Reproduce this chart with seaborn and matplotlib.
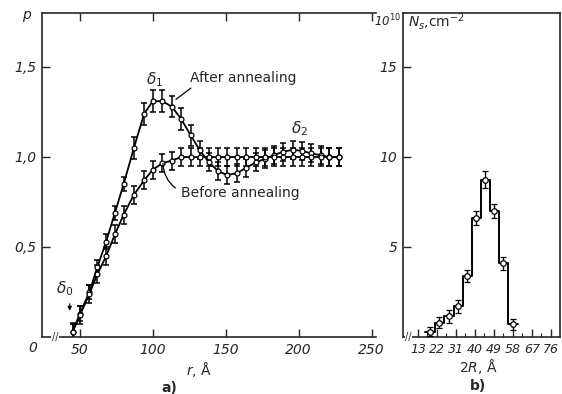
import seaborn as sns
import matplotlib.pyplot as plt
import pandas as pd
import numpy as np

# a) pair correlation p(r) before / after annealing
r = [45, 50, 56.5, 62, 68, 74, 80, 87, 94, 100, 106.5, 113, 119.5, 126, 132,
     138.5, 145, 151, 157.5, 164, 170.5, 177, 183, 189.5, 196, 202, 208.5, 215, 221, 227.5]
p_after = [0.03, 0.13, 0.25, 0.39, 0.53, 0.69, 0.85, 1.05, 1.24, 1.31, 1.31, 1.28, 1.21, 1.12, 1.04,
           0.97, 0.92, 0.90, 0.91, 0.94, 0.97, 0.99, 1.01, 1.03, 1.04, 1.035, 1.02, 1.01, 1.0, 1.0]
p_before = [0.03, 0.12, 0.24, 0.35, 0.45, 0.57, 0.68, 0.79, 0.87, 0.93, 0.965, 0.98, 1.0, 1.0, 1.0,
            1.0, 1.0, 1.0, 1.0, 1.0, 1.0, 1.0, 1.0, 1.0, 1.0, 1.0, 1.0, 1.0, 1.0, 1.0]
err_after = [0.04]*7 + [0.06]*7 + [0.05]*16
err_before = [0.05]*30

# b) size distribution N_s(2R)
bin_edges = [16.3, 20.9, 25.3, 30.0, 34.3, 38.6, 42.8, 47.1, 51.4, 55.6, 60.4]
ns = [0.3, 0.8, 1.15, 1.7, 3.4, 6.6, 8.75, 7.0, 4.1, 0.7]
ns_err = [0.25, 0.3, 0.35, 0.35, 0.35, 0.4, 0.45, 0.4, 0.35, 0.3]

r_ticks = [50, 100, 150, 200, 250]
p_ticks = [0.5, 1.0, 1.5]
p_labels = ['0,5', '1,0', '1,5']
d_ticks = [13, 22, 31, 40, 49, 58, 67, 76]
n_ticks = [5, 10, 15]

sns.set_style('ticks')
plt.rcParams['font.family'] = ['DejaVu Sans']
plt.rcParams['mathtext.fontset'] = 'dejavusans'

fig = plt.figure(figsize=(5.62, 3.94), dpi=100)
ax1 = fig.add_axes([42/562, 57/394, 334/562, 324/394])
ax2 = fig.add_axes([403/562, 57/394, 157/562, 324/394])

# ---- panel a
for yy, ee in [(p_after, err_after), (p_before, err_before)]:
    sns.lineplot(x=r, y=yy, ax=ax1, color='black', lw=1.3, marker='o', markersize=3.5,
                 markerfacecolor='white', markeredgecolor='black', markeredgewidth=0.9, zorder=3)
    ax1.errorbar(r, yy, yerr=ee, fmt='none', ecolor='black', elinewidth=1.1, capsize=2.5, capthick=1.1)

ax1.set_xlim(24, 253)
ax1.set_ylim(0, 1.8)
ax1.set_xticks(r_ticks)
ax1.set_xticklabels([str(t) for t in r_ticks], fontstyle='italic', fontsize=10)
ax1.set_yticks(p_ticks)
ax1.set_yticklabels(p_labels, fontstyle='italic', fontsize=10)
ax1.tick_params(direction='in', length=6, width=1.0, top=True, labeltop=False, pad=4)
ax1.spines['right'].set_visible(False)
for s in ['left', 'bottom', 'top']:
    ax1.spines[s].set_linewidth(1.2)

ax1.text(-0.027, -0.035, '0', transform=ax1.transAxes, ha='center', va='center',
         fontsize=10, fontstyle='italic')
ax1.text(0.04, 0.0, '//', transform=ax1.transAxes, ha='center', va='center', fontsize=7,
         bbox=dict(facecolor='white', edgecolor='none', pad=0.5))
ax1.text(-0.045, 0.99, '$p$', transform=ax1.transAxes, ha='center', va='center', fontsize=10)
ax1.text(0.47, -0.1, '$r$, Å', transform=ax1.transAxes, ha='center', va='center', fontsize=10)
ax1.text(0.381, -0.157, 'a)', transform=ax1.transAxes, ha='center', va='center',
         fontsize=10, fontweight='bold')

ax1.text(101.4, 1.43, r'$\delta_1$', ha='center', va='center', fontsize=11)
ax1.text(200.7, 1.16, r'$\delta_2$', ha='center', va='center', fontsize=11)
ax1.text(39.7, 0.27, r'$\delta_0$', ha='center', va='center', fontsize=11)
ax1.annotate('', xy=(43, 0.13), xytext=(43, 0.2),
             arrowprops=dict(arrowstyle='-|>', color='black', lw=0.8, mutation_scale=6))

ax1.annotate('After annealing', xy=(115.8, 1.32), xytext=(125.4, 1.44),
             ha='left', va='center', fontsize=10,
             arrowprops=dict(arrowstyle='-', color='black', lw=0.9, shrinkA=0, shrinkB=0,
                             relpos=(0.05, 0.0)))
ax1.annotate('Before annealing', xy=(106.9, 0.98), xytext=(119.2, 0.80),
             ha='left', va='center', fontsize=10,
             arrowprops=dict(arrowstyle='-', color='black', lw=0.9, shrinkA=2, shrinkB=2,
                             relpos=(0.0, 0.6), connectionstyle='arc3,rad=-0.3'))

# ---- panel b
centers = [(a + b) / 2 for a, b in zip(bin_edges[:-1], bin_edges[1:])]
sns.histplot(x=centers, weights=ns, bins=bin_edges, element='step', fill=False,
             color='black', linewidth=1.4, ax=ax2)
ax2.errorbar(centers, ns, yerr=ns_err, fmt='o', ms=4, mfc='white', mec='black', mew=0.9,
             ecolor='black', elinewidth=1.0, capsize=2.5, capthick=1.0, zorder=3)

ax2.set_xlim(5.9, 80.3)
ax2.set_ylim(0, 18)
ax2.set_xticks(d_ticks)
ax2.set_xticklabels([str(t) for t in d_ticks], fontstyle='italic', fontsize=9)
ax2.set_xticks([t + 4.5 for t in d_ticks[:-1]], minor=True)
ax2.set_yticks(n_ticks)
ax2.set_yticklabels([str(t) for t in n_ticks], fontstyle='italic', fontsize=10)
ax2.tick_params(direction='in', length=6, width=1.0, pad=4)
ax2.tick_params(which='minor', direction='in', length=3, width=0.8)
ax2.set_xlabel('')
ax2.set_ylabel('')
for s in ax2.spines.values():
    s.set_visible(True)
    s.set_linewidth(1.2)

ax2.text(0.035, 0.0, '//', transform=ax2.transAxes, ha='center', va='center', fontsize=7,
         bbox=dict(facecolor='white', edgecolor='none', pad=0.5))
ax2.text(-0.1, 0.975, '10$^{10}$', transform=ax2.transAxes, ha='center', va='center',
         fontsize=8.5, fontstyle='italic')
ax2.text(0.03, 0.975, '$N_s$,cm$^{-2}$', transform=ax2.transAxes, ha='left', va='center',
         fontsize=10)
ax2.text(0.478, -0.09, '$2R$, Å', transform=ax2.transAxes, ha='center', va='center', fontsize=10)
ax2.text(0.478, -0.15, 'b)', transform=ax2.transAxes, ha='center', va='center',
         fontsize=10, fontweight='bold')

fig.savefig('out.png', dpi=100)
